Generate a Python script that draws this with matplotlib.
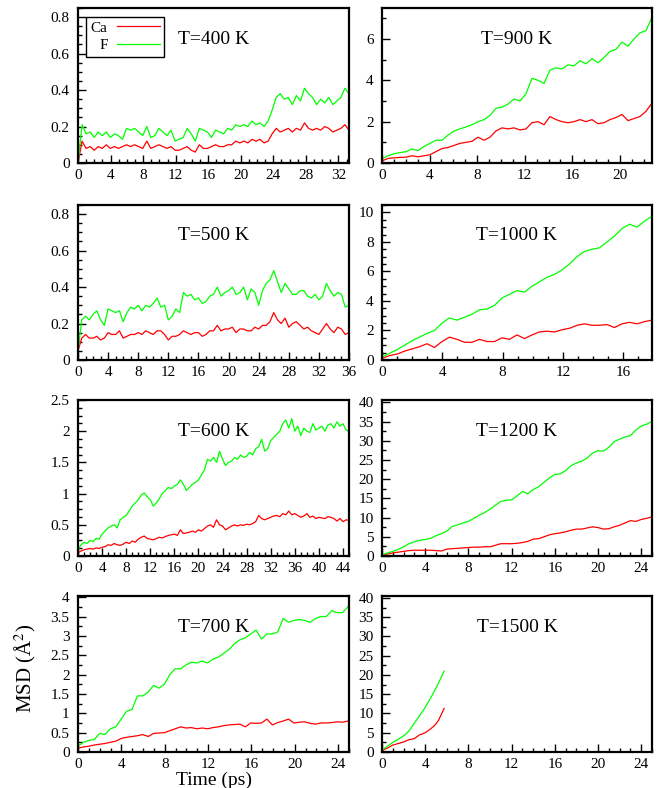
import numpy as np
import matplotlib
matplotlib.use("Agg")
import matplotlib.pyplot as plt
from matplotlib.ticker import MultipleLocator, FormatStrFormatter

plt.rcParams['font.family'] = ['Liberation Serif', 'DejaVu Serif']
plt.rcParams['mathtext.fontset'] = 'stix'

# MSD curves, Ca (red) and F (green), roughly every 0.5 ps
t_end_400 = 33.3
f_400 = [0.00, 0.21, 0.16, 0.17, 0.14, 0.17, 0.15, 0.17, 0.14, 0.16, 0.15, 0.13, 0.19, 0.18,
         0.19, 0.17, 0.15, 0.20, 0.14, 0.15, 0.19, 0.17, 0.15, 0.18, 0.12, 0.13, 0.14, 0.19,
         0.16, 0.12, 0.19, 0.18, 0.17, 0.14, 0.18, 0.17, 0.16, 0.19, 0.18, 0.21, 0.20, 0.21,
         0.20, 0.23, 0.21, 0.22, 0.20, 0.23, 0.29, 0.36, 0.38, 0.35, 0.36, 0.32, 0.37, 0.34,
         0.41, 0.38, 0.36, 0.32, 0.35, 0.33, 0.36, 0.32, 0.34, 0.36, 0.41, 0.38]
ca_400 = [0.00, 0.12, 0.08, 0.09, 0.07, 0.09, 0.08, 0.10, 0.08, 0.09, 0.08, 0.09, 0.10, 0.09,
          0.10, 0.09, 0.08, 0.12, 0.08, 0.09, 0.10, 0.09, 0.08, 0.09, 0.07, 0.07, 0.08, 0.09,
          0.07, 0.06, 0.10, 0.08, 0.08, 0.09, 0.10, 0.09, 0.09, 0.10, 0.10, 0.12, 0.11, 0.12,
          0.11, 0.13, 0.12, 0.13, 0.11, 0.12, 0.16, 0.19, 0.17, 0.18, 0.19, 0.17, 0.19, 0.18,
          0.22, 0.19, 0.18, 0.19, 0.18, 0.20, 0.19, 0.17, 0.18, 0.19, 0.21, 0.18]

t_end_500 = 36.0
f_500 = [0.05, 0.22, 0.24, 0.22, 0.25, 0.27, 0.22, 0.19, 0.28, 0.27, 0.26, 0.27, 0.21, 0.26,
         0.29, 0.28, 0.30, 0.27, 0.30, 0.29, 0.31, 0.34, 0.29, 0.30, 0.22, 0.24, 0.28, 0.26,
         0.37, 0.35, 0.36, 0.33, 0.34, 0.31, 0.32, 0.35, 0.36, 0.40, 0.35, 0.37, 0.38, 0.40,
         0.36, 0.37, 0.40, 0.33, 0.39, 0.37, 0.30, 0.38, 0.42, 0.44, 0.49, 0.43, 0.37, 0.42,
         0.39, 0.36, 0.36, 0.38, 0.38, 0.35, 0.34, 0.36, 0.33, 0.35, 0.42, 0.38, 0.35, 0.37,
         0.36, 0.29, 0.30]
ca_500 = [0.05, 0.12, 0.14, 0.12, 0.12, 0.13, 0.11, 0.12, 0.15, 0.14, 0.14, 0.16, 0.12, 0.13,
          0.14, 0.14, 0.15, 0.14, 0.16, 0.15, 0.14, 0.16, 0.16, 0.14, 0.11, 0.13, 0.13, 0.14,
          0.16, 0.15, 0.14, 0.15, 0.15, 0.13, 0.14, 0.16, 0.16, 0.19, 0.16, 0.17, 0.17, 0.18,
          0.15, 0.17, 0.17, 0.16, 0.16, 0.18, 0.17, 0.19, 0.19, 0.21, 0.26, 0.22, 0.20, 0.23,
          0.18, 0.20, 0.21, 0.19, 0.17, 0.18, 0.16, 0.15, 0.14, 0.17, 0.20, 0.17, 0.15, 0.18,
          0.17, 0.14, 0.15]

t_end_600 = 45.0
f_600 = [0.10, 0.18, 0.22, 0.20, 0.25, 0.23, 0.28, 0.27, 0.35, 0.40, 0.45, 0.48, 0.50, 0.45,
         0.58, 0.62, 0.65, 0.72, 0.80, 0.85, 0.90, 0.98, 1.01, 0.95, 0.90, 0.80, 0.85, 0.92,
         1.00, 1.05, 1.10, 1.08, 1.12, 1.15, 1.22, 1.15, 1.05, 1.10, 1.15, 1.18, 1.22, 1.30,
         1.38, 1.55, 1.52, 1.58, 1.50, 1.68, 1.55, 1.45, 1.50, 1.52, 1.58, 1.55, 1.62, 1.58,
         1.60, 1.66, 1.62, 1.72, 1.75, 1.87, 1.68, 1.72, 1.85, 1.90, 1.95, 2.00, 2.12, 2.18,
         2.05, 2.20, 2.00, 2.08, 1.93, 2.05, 2.00, 1.98, 2.12, 2.02, 2.05, 2.08, 2.00, 2.10,
         2.12, 2.05, 2.15, 2.08, 2.12, 2.02, 2.00]
ca_600 = [0.05, 0.08, 0.10, 0.11, 0.12, 0.11, 0.13, 0.12, 0.14, 0.15, 0.18, 0.17, 0.20, 0.18,
          0.17, 0.19, 0.22, 0.20, 0.24, 0.22, 0.27, 0.30, 0.32, 0.28, 0.27, 0.26, 0.28, 0.30,
          0.29, 0.31, 0.33, 0.34, 0.35, 0.33, 0.42, 0.36, 0.37, 0.38, 0.40, 0.38, 0.42, 0.40,
          0.44, 0.48, 0.50, 0.46, 0.58, 0.50, 0.48, 0.42, 0.45, 0.48, 0.50, 0.48, 0.50, 0.49,
          0.51, 0.50, 0.52, 0.55, 0.65, 0.60, 0.58, 0.60, 0.62, 0.64, 0.65, 0.63, 0.68, 0.66,
          0.72, 0.66, 0.68, 0.65, 0.62, 0.64, 0.68, 0.62, 0.64, 0.60, 0.62, 0.61, 0.60, 0.63,
          0.62, 0.60, 0.56, 0.60, 0.55, 0.58, 0.57]

t_end_700 = 24.9
f_700 = [0.15, 0.25, 0.30, 0.32, 0.48, 0.45, 0.60, 0.65, 0.85, 1.05, 1.10, 1.45, 1.45, 1.55,
         1.72, 1.65, 1.75, 2.00, 2.15, 2.15, 2.25, 2.32, 2.30, 2.35, 2.30, 2.40, 2.45, 2.55,
         2.65, 2.80, 2.90, 2.95, 3.05, 3.15, 2.92, 3.05, 3.05, 3.10, 3.45, 3.35, 3.40, 3.42,
         3.40, 3.35, 3.45, 3.50, 3.50, 3.65, 3.60, 3.60, 3.75]
ca_700 = [0.10, 0.13, 0.15, 0.18, 0.20, 0.22, 0.25, 0.28, 0.35, 0.38, 0.40, 0.42, 0.45, 0.40,
          0.48, 0.49, 0.50, 0.55, 0.60, 0.65, 0.62, 0.63, 0.60, 0.62, 0.60, 0.63, 0.65, 0.68,
          0.70, 0.71, 0.72, 0.65, 0.75, 0.74, 0.75, 0.85, 0.70, 0.76, 0.80, 0.85, 0.75, 0.77,
          0.78, 0.74, 0.72, 0.75, 0.75, 0.76, 0.78, 0.77, 0.80]

t_end_900 = 22.7
f_900 = [0.20, 0.35, 0.45, 0.50, 0.55, 0.68, 0.60, 0.80, 0.95, 1.10, 1.10, 1.35, 1.55, 1.65,
         1.75, 1.85, 2.00, 2.10, 2.30, 2.65, 2.70, 2.85, 3.10, 3.00, 3.35, 4.10, 4.00, 3.85,
         4.50, 4.60, 4.55, 4.75, 4.70, 4.95, 4.80, 5.05, 4.85, 5.10, 5.40, 5.50, 5.85, 5.65,
         6.00, 6.30, 6.40, 7.05]
ca_900 = [0.10, 0.22, 0.25, 0.27, 0.28, 0.35, 0.30, 0.35, 0.40, 0.55, 0.70, 0.75, 0.85, 0.95,
          1.00, 1.05, 1.25, 1.10, 1.25, 1.55, 1.70, 1.65, 1.70, 1.60, 1.65, 1.95, 2.00, 1.85,
          2.25, 2.10, 2.00, 1.95, 2.00, 2.10, 2.00, 2.10, 1.90, 1.95, 2.10, 2.20, 2.35, 2.05,
          2.15, 2.25, 2.50, 2.90]

t_end_1000 = 17.9
f_1000 = [0.20, 0.45, 0.70, 1.00, 1.30, 1.55, 1.80, 2.00, 2.50, 2.85, 2.70, 2.90, 3.10, 3.40,
          3.45, 3.70, 4.20, 4.45, 4.70, 4.60, 5.00, 5.30, 5.60, 5.80, 6.10, 6.50, 7.00, 7.35,
          7.50, 7.60, 8.00, 8.40, 8.90, 9.20, 9.00, 9.40, 9.75]
ca_1000 = [0.10, 0.30, 0.40, 0.60, 0.75, 0.90, 1.10, 0.85, 1.25, 1.55, 1.40, 1.20, 1.20, 1.40,
           1.25, 1.25, 1.50, 1.40, 1.70, 1.45, 1.70, 1.90, 1.95, 1.90, 2.05, 2.15, 2.35, 2.45,
           2.35, 2.35, 2.40, 2.20, 2.45, 2.55, 2.45, 2.60, 2.70]

t_end_1200 = 25.0
f_1200 = [0.3, 0.8, 1.2, 1.7, 2.4, 3.2, 3.7, 4.1, 4.3, 4.6, 5.3, 5.8, 6.5, 7.7, 8.1, 8.6, 9.0,
          9.8, 10.6, 11.3, 12.2, 13.2, 14.2, 14.5, 14.6, 15.6, 16.8, 16.2, 17.3, 18.0, 19.2,
          20.3, 21.2, 21.4, 22.2, 23.5, 24.2, 24.7, 25.5, 26.8, 27.4, 27.3, 28.3, 29.8, 30.4,
          31.0, 31.3, 32.8, 33.8, 34.3, 35.0]
ca_1200 = [0.2, 0.5, 0.8, 1.0, 1.2, 1.4, 1.5, 1.5, 1.5, 1.5, 1.4, 1.3, 1.8, 1.9, 2.0, 2.1, 2.2,
           2.3, 2.3, 2.4, 2.4, 2.8, 3.2, 3.2, 3.2, 3.3, 3.5, 3.8, 4.4, 4.5, 5.0, 5.5, 5.8, 6.0,
           6.3, 6.7, 7.0, 7.0, 7.3, 7.6, 7.4, 7.0, 7.1, 7.6, 8.0, 8.6, 9.2, 9.0, 9.5, 9.8, 10.2]

t_end_1500 = 5.75
f_1500 = [0.5, 1.0, 1.5, 2.0, 2.5, 2.9, 3.3, 3.7, 4.2, 4.8, 5.5, 6.5, 7.5, 8.5, 9.5, 10.5,
          11.6, 12.8, 14.0, 15.3, 16.6, 18.0, 19.5, 21.0]
ca_1500 = [0.3, 0.7, 1.0, 1.4, 1.8, 2.0, 2.2, 2.4, 2.6, 2.9, 3.2, 3.3, 3.5, 4.0, 4.5, 4.7,
           5.0, 5.5, 6.0, 6.6, 7.3, 8.3, 9.8, 11.3]

# panel order: left column top->bottom, right column top->bottom
panels = [
    ("T=400 K", t_end_400, ca_400, f_400, 33.3, 0.85, 0.2, 0.05, "%g"),
    ("T=500 K", t_end_500, ca_500, f_500, 36.0, 0.85, 0.2, 0.05, "%g"),
    ("T=600 K", t_end_600, ca_600, f_600, 45.0, 2.5, 0.5, 0.125, "%g"),
    ("T=700 K", t_end_700, ca_700, f_700, 25.0, 4.03, 0.5, 0.25, "%g"),
    ("T=900 K", t_end_900, ca_900, f_900, 22.7, 7.5, 2, 1, "%g"),
    ("T=1000 K", t_end_1000, ca_1000, f_1000, 17.9, 10.5, 2, 0.5, "%g"),
    ("T=1200 K", t_end_1200, ca_1200, f_1200, 25.0, 40.6, 5, 2.5, "%g"),
    ("T=1500 K", t_end_1500, ca_1500, f_1500, 25.0, 40.5, 5, 2.5, "%g"),
]

W, H = 662, 788
fig = plt.figure(figsize=(W / 100, H / 100), dpi=100)

col_x = [78, 382]
col_w = [271, 270]
row_top = [8, 205, 400, 596]
row_bot = [163, 360, 556, 752]

axes = []
for i, (title, t_end, ca, f, xmax, ymax, ymaj, ymin, fmt) in enumerate(panels):
    c, r = divmod(i, 4)
    ax = fig.add_axes([col_x[c] / W, 1 - row_bot[r] / H,
                       col_w[c] / W, (row_bot[r] - row_top[r]) / H])
    t_ca = np.linspace(0, t_end, len(ca))
    t_f = np.linspace(0, t_end, len(f))
    ax.plot(t_ca, ca, color='#ff0000', lw=0.9, label='Ca')
    ax.plot(t_f, f, color='#00ff00', lw=0.9, label='F')
    ax.set_xlim(0, xmax)
    ax.set_ylim(0, ymax)
    ax.xaxis.set_major_locator(MultipleLocator(4))
    ax.xaxis.set_minor_locator(MultipleLocator(1))
    ax.yaxis.set_major_locator(MultipleLocator(ymaj))
    ax.yaxis.set_minor_locator(MultipleLocator(ymin))
    ax.yaxis.set_major_formatter(FormatStrFormatter(fmt))
    ax.tick_params(which='both', direction='in', top=False, right=False,
                   labelsize=11, width=1.0)
    ax.tick_params(which='major', length=6)
    ax.tick_params(which='minor', length=3)
    ax.tick_params(axis='y', pad=6)
    ax.tick_params(axis='x', pad=4)
    for s in ax.spines.values():
        s.set_linewidth(1.6)
    ax.text(0.5, 0.8, title, transform=ax.transAxes, ha='center', va='center',
            fontsize=14)
    axes.append(ax)

leg = axes[0].legend(loc='upper left', bbox_to_anchor=(0.03, 0.945), borderaxespad=0,
                     markerfirst=False, fontsize=11, handlelength=2.8,
                     labelspacing=0.25, borderpad=0.3, handletextpad=0.6,
                     fancybox=False, framealpha=1, edgecolor='black')
leg.get_frame().set_linewidth(1.0)

fig.text(25 / W, 1 - 668 / H, 'MSD (Å$^2$)', rotation=90, ha='center', va='center',
         fontsize=15)
fig.text(214 / W, 1 - 785 / H, 'Time (ps)', ha='center', va='baseline', fontsize=14)

fig.savefig('out.png', dpi=100)
